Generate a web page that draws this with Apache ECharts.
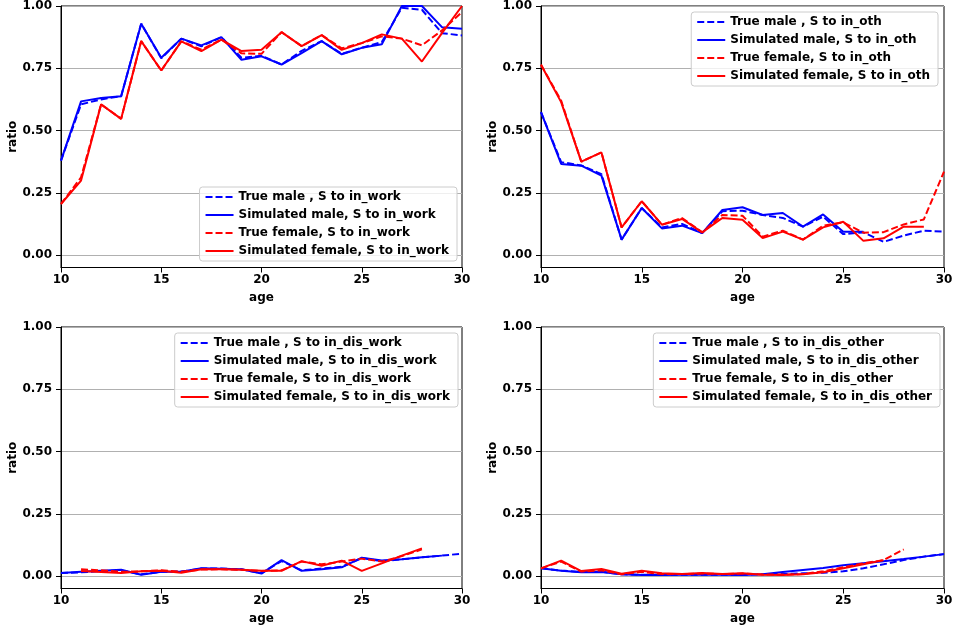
<!DOCTYPE html>
<html>
<head>
<meta charset="utf-8">
<script src="https://cdn.jsdelivr.net/npm/echarts@6.0.0/dist/echarts.min.js"></script>
<style>
html,body{margin:0;padding:0;background:#fff;}
#chart{width:956px;height:632px;}
</style>
</head>
<body>
<div id="chart"></div>
<script>
// ---- data ----
var ages = [10,11,12,13,14,15,16,17,18,19,20,21,22,23,24,25,26,27,28,29,30];
var yTicks = [0, 0.25, 0.5, 0.75, 1.0];
var yTickLabels = ['0.00','0.25','0.50','0.75','1.00'];
var xTicks = [10, 15, 20, 25, 30];

var panelTargets = ['in_work', 'in_oth', 'in_dis_work', 'in_dis_other'];

// S to in_work
var trueMaleWork   = [0.379,0.605,0.625,0.638,0.929,0.790,0.869,0.838,0.875,0.792,0.800,0.765,0.820,0.859,0.808,0.832,0.855,0.993,0.985,0.891,0.882];
var simMaleWork    = [0.379,0.617,0.631,0.638,0.929,0.792,0.869,0.842,0.875,0.784,0.798,0.765,0.811,0.859,0.806,0.832,0.846,1.000,1.000,0.915,0.909];
var trueFemaleWork = [0.205,0.312,0.605,0.547,0.859,0.741,0.858,0.825,0.865,0.810,0.808,0.895,0.839,0.883,0.830,0.851,0.878,0.869,0.842,0.902,0.976];
var simFemaleWork  = [0.205,0.299,0.605,0.547,0.859,0.741,0.858,0.819,0.865,0.819,0.824,0.895,0.839,0.883,0.824,0.851,0.886,0.869,0.777,0.891,1.000];

// S to in_oth
var trueMaleOth   = [0.574,0.373,0.360,0.325,0.062,0.189,0.111,0.125,0.088,0.176,0.178,0.161,0.149,0.114,0.154,0.084,0.091,0.053,0.078,0.098,0.094];
var simMaleOth    = [0.574,0.366,0.359,0.319,0.062,0.189,0.107,0.118,0.088,0.181,0.192,0.161,0.169,0.114,0.163,0.094,0.094,null,null,null,null];
var trueFemaleOth = [0.764,0.620,0.375,0.412,0.111,0.216,0.122,0.149,0.091,0.161,0.158,0.074,0.098,0.062,0.118,0.131,0.090,0.092,0.123,0.143,0.335];
var simFemaleOth  = [0.764,0.614,0.375,0.412,0.111,0.216,0.122,0.145,0.091,0.149,0.142,0.068,0.094,0.062,0.111,0.134,0.057,0.067,0.114,0.114,null];

// S to in_dis_work
var trueMaleDisWork   = [0.012,0.015,0.020,0.022,0.007,0.017,0.018,0.030,0.030,0.027,0.012,0.060,0.023,0.030,0.037,0.072,0.060,0.067,0.075,0.082,0.090];
var simMaleDisWork    = [0.012,0.017,0.021,0.025,0.005,0.017,0.017,0.031,0.029,0.027,0.010,0.064,0.021,0.027,0.035,0.074,0.062,0.067,0.075,0.082,null];
var trueFemaleDisWork = [null,0.027,0.023,0.017,0.019,0.023,0.017,0.026,0.027,0.025,0.020,0.023,0.058,0.047,0.058,0.070,0.058,0.080,0.107,null,null];
var simFemaleDisWork  = [null,0.020,0.016,0.012,0.019,0.021,0.013,0.027,0.027,0.025,0.021,0.021,0.060,0.041,0.062,0.021,0.051,0.082,0.111,null,null];

// S to in_dis_other
var trueMaleDisOth   = [0.031,0.022,0.016,0.017,0.007,0.005,0.005,0.005,0.005,0.005,0.005,0.007,0.008,0.011,0.013,0.019,0.031,0.047,0.064,0.078,0.088];
var simMaleDisOth    = [0.031,0.021,0.015,0.016,0.007,0.004,0.004,0.005,0.005,0.005,0.004,0.007,0.016,0.024,0.032,0.043,0.051,0.059,0.068,0.078,0.088];
var trueFemaleDisOth = [0.031,0.058,0.018,0.023,0.007,0.017,0.008,0.008,0.010,0.008,0.010,0.006,0.006,0.008,0.019,0.035,0.051,0.064,0.107,null,null];
var simFemaleDisOth  = [0.031,0.062,0.020,0.028,0.009,0.021,0.011,0.008,0.012,0.008,0.011,0.005,0.004,0.007,0.015,0.031,0.047,0.064,null,null,null];

var panelData = [
  [trueMaleWork, simMaleWork, trueFemaleWork, simFemaleWork],
  [trueMaleOth, simMaleOth, trueFemaleOth, simFemaleOth],
  [trueMaleDisWork, simMaleDisWork, trueFemaleDisWork, simFemaleDisWork],
  [trueMaleDisOth, simMaleDisOth, trueFemaleDisOth, simFemaleDisOth]
];
var seriesPrefixes = ['True male , S to ', 'Simulated male, S to ', 'True female, S to ', 'Simulated female, S to '];

// ---- layout / style ----
var FONT = 'DejaVu Sans';
var gridBoxes = [
  {left: 61,  top: 6,   width: 401, height: 261.5},
  {left: 541, top: 6,   width: 403, height: 261.5},
  {left: 61,  top: 327, width: 401, height: 261.5},
  {left: 541, top: 327, width: 403, height: 261.5}
];
var legendPos = [
  {right: 499, top: 187},
  {right: 18,  top: 12},
  {right: 498, top: 333},
  {right: 16,  top: 333}
];
var styles = [
  {color: '#0000ff', type: [7, 3]},
  {color: '#0000ff', type: 'solid'},
  {color: '#ff0000', type: [7, 3]},
  {color: '#ff0000', type: 'solid'}
];

var grids = [], xAxes = [], yAxes = [], legends = [], series = [];
for (var p = 0; p < 4; p++) {
  var g = gridBoxes[p];
  grids.push({left: g.left, top: g.top, width: g.width, height: g.height,
    show: true, borderColor: '#000', borderWidth: 1, backgroundColor: 'transparent', containLabel: false});
  xAxes.push({
    type: 'value', gridIndex: p, min: 10, max: 30, interval: 5,
    name: 'age', nameLocation: 'middle', nameGap: 24,
    nameTextStyle: {fontFamily: FONT, fontWeight: 'bold', fontSize: 12, color: '#000'},
    axisLine: {show: true, onZero: false, lineStyle: {color: '#000', width: 1}},
    axisTick: {show: true, inside: false, length: 5, lineStyle: {color: '#000'}},
    axisLabel: {fontFamily: FONT, fontWeight: 'bold', fontSize: 12, color: '#000', margin: 6,
      customValues: xTicks},
    splitLine: {show: false}
  });
  yAxes.push({
    type: 'value', gridIndex: p, min: -0.05, max: 1.0,
    name: 'ratio', nameLocation: 'middle', nameGap: 41,
    nameTextStyle: {fontFamily: FONT, fontWeight: 'bold', fontSize: 12, color: '#000'},
    axisLine: {show: true, onZero: false, lineStyle: {color: '#000', width: 1}},
    axisTick: {show: true, inside: false, length: 5, lineStyle: {color: '#000'}, customValues: yTicks},
    axisLabel: {fontFamily: FONT, fontWeight: 'bold', fontSize: 12, color: '#000', margin: 9,
      customValues: yTicks,
      formatter: function (v) { var i = yTicks.indexOf(v); return i >= 0 ? yTickLabels[i] : ''; }},
    splitLine: {show: true, lineStyle: {color: '#b0b0b0', width: 1}}
  });
  var names = [];
  for (var s = 0; s < 4; s++) {
    var nm = seriesPrefixes[s] + panelTargets[p];
    names.push(nm);
    var vals = panelData[p][s];
    series.push({
      type: 'line', name: nm, xAxisIndex: p, yAxisIndex: p,
      data: ages.map(function (a, k) { return [a, vals[k]]; }),
      showSymbol: false, symbol: 'none', connectNulls: false, animation: false,
      lineStyle: {color: styles[s].color, width: 2, type: styles[s].type},
      itemStyle: {color: styles[s].color},
      z: 2 + s
    });
  }
  legends.push({
    orient: 'vertical', right: legendPos[p].right, top: legendPos[p].top,
    data: names, itemWidth: 28, itemHeight: 12, itemGap: 6,
    padding: [4, 8, 4, 5],
    backgroundColor: 'rgba(255,255,255,0.8)', borderColor: '#cccccc', borderWidth: 1, borderRadius: 3,
    itemStyle: {opacity: 0, borderWidth: 0},
    textStyle: {fontFamily: FONT, fontWeight: 'bold', fontSize: 12, color: '#000'},
    selectedMode: false
  });
}

var chart = echarts.init(document.getElementById('chart'), null, {renderer: 'canvas'});
chart.setOption({
  backgroundColor: '#fff',
  animation: false,
  grid: grids, xAxis: xAxes, yAxis: yAxes, legend: legends, series: series
});
</script>
</body>
</html>
